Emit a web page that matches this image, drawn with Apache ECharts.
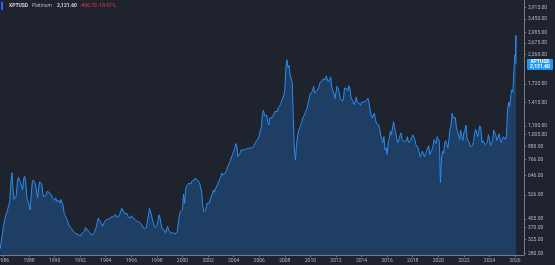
<!DOCTYPE html>
<html>
<head>
<meta charset="utf-8">
<script src="https://cdn.jsdelivr.net/npm/echarts@6/dist/echarts.min.js"></script>
<style>
html,body{margin:0;padding:0;background:#1f232e;}
#chart{width:555px;height:265px;}
</style>
</head>
<body>
<div id="chart"></div>
<script>
// ---- data ----
const symbol = 'XPTUSD';
const instrument = 'Platinum';
const startYear = 1985;
const startMonth = 10; // first monthly value = Oct 1985
const prices = [
  // 1985 (Oct-Dec)
  295, 320, 345,
  // 1986
  375, 395, 420, 433, 450, 470, 490, 600, 665, 560, 500, 490,
  // 1987
  520, 600, 635, 640, 600, 580, 553, 625, 640, 600, 510, 500,
  // 1988
  470, 447, 520, 600, 616, 610, 590, 600, 510, 560, 605, 600,
  // 1989
  590, 530, 515, 510, 525, 545, 555, 540, 550, 525, 510, 500,
  // 1990
  495, 510, 490, 485, 495, 480, 500, 490, 470, 430, 420, 410,
  // 1991
  400, 385, 375, 370, 365, 360, 355, 350, 345, 340, 345, 340,
  // 1992
  338, 345, 350, 345, 355, 370, 372, 360, 355, 350, 345, 340,
  // 1993
  345, 350, 352, 370, 390, 410, 412, 395, 385, 375, 380, 395,
  // 1994
  400, 405, 410, 405, 410, 415, 420, 415, 420, 425, 420, 412,
  // 1995
  420, 425, 440, 455, 450, 440, 430, 425, 430, 415, 420, 410,
  // 1996
  420, 415, 410, 405, 400, 398, 395, 395, 390, 385, 380, 375,
  // 1997
  365, 362, 370, 375, 420, 455, 440, 420, 400, 395, 370, 365,
  // 1998
  375, 400, 424, 410, 380, 365, 370, 360, 350, 345, 375, 360,
  // 1999
  355, 350, 345, 350, 355, 345, 350, 355, 360, 420, 440, 445,
  // 2000
  450, 530, 480, 560, 580, 590, 595, 600, 590, 610, 605, 615,
  // 2001
  630, 640, 615, 620, 600, 570, 540, 470, 440, 433, 450, 480,
  // 2002
  470, 480, 500, 510, 530, 553, 540, 560, 570, 590, 600, 620,
  // 2003
  640, 665, 650, 640, 660, 680, 700, 710, 740, 760, 790, 810,
  // 2004
  840, 860, 910, 890, 790, 800, 820, 850, 860, 850, 860, 855,
  // 2005
  860, 865, 860, 865, 870, 870, 880, 890, 910, 930, 950, 960,
  // 2006
  990, 1050, 1080, 1250, 1300, 1230, 1230, 1230, 1150, 1110, 1200, 1180,
  // 2007
  1200, 1230, 1250, 1290, 1300, 1280, 1340, 1360, 1380, 1440, 1470, 1520,
  // 2008
  1616, 2050, 2230, 2050, 2100, 1900, 1880, 1740, 1200, 850, 765, 900,
  // 2009
  990, 1050, 1080, 1110, 1150, 1200, 1230, 1260, 1300, 1330, 1420, 1450,
  // 2010
  1550, 1530, 1600, 1680, 1560, 1580, 1600, 1620, 1660, 1750, 1720, 1780,
  // 2011
  1820, 1850, 1800, 1880, 1800, 1760, 1800, 1860, 1680, 1600, 1560, 1470,
  // 2012
  1500, 1680, 1640, 1580, 1470, 1450, 1430, 1470, 1650, 1620, 1640, 1600,
  // 2013
  1690, 1650, 1500, 1460, 1470, 1380, 1420, 1500, 1420, 1450, 1400, 1370,
  // 2014
  1420, 1430, 1420, 1420, 1440, 1470, 1480, 1420, 1300, 1240, 1200, 1210,
  // 2015
  1260, 1180, 1130, 1140, 1110, 1070, 990, 1000, 920, 980, 850, 870,
  // 2016
  810, 930, 960, 1040, 1000, 990, 1150, 1080, 1020, 950, 920, 930,
  // 2017
  990, 1020, 950, 940, 930, 920, 940, 980, 920, 930, 940, 960,
  // 2018
  1000, 980, 950, 900, 890, 870, 830, 790, 810, 840, 850, 790,
  // 2019
  780, 840, 850, 890, 810, 830, 850, 880, 950, 930, 910, 980,
  // 2020
  990, 930, 600, 780, 840, 820, 920, 940, 900, 870, 950, 1060,
  // 2021
  1110, 1260, 1200, 1220, 1200, 1080, 1060, 1000, 950, 1050, 990, 940,
  // 2022
  1020, 1050, 1110, 960, 950, 920, 880, 870, 890, 930, 1010, 1060,
  // 2023
  1080, 980, 960, 1100, 1060, 920, 940, 920, 900, 890, 920, 1000,
  // 2024
  960, 890, 910, 940, 1050, 1030, 990, 940, 970, 1010, 960, 920,
  // 2025
  950, 980, 960, 950, 1000, 1300, 1420, 1350, 1520, 1620, 1580, 2000
];
// final weeks (decimal years) of the series
const tailYears = [2025.98, 2026.03, 2026.068, 2026.08];
const tailPrices = [2350, 2300, 2900, 2121.6];
const priceChange = -496.70;
const priceChangePct = -18.97;
const yTickValues = [280, 325, 370, 405, 526, 646, 766, 880, 1005, 1100, 1415, 1720, 2360, 2675, 2985, 3450, 3915];
const xTickYears = [1986, 1988, 1990, 1992, 1994, 1996, 1998, 2000, 2002, 2004, 2006, 2008, 2010, 2012, 2014, 2016, 2018, 2020, 2022, 2024, 2026];

// ---- build ----
const seriesData = prices.map((p, i) => [startYear + (startMonth - 1 + i) / 12, p])
  .concat(tailYears.map((t, i) => [t, tailPrices[i]]));
const lastPrice = tailPrices[tailPrices.length - 1];
const fmt = v => Number(v).toLocaleString('en-US', {minimumFractionDigits: 2, maximumFractionDigits: 2});

const FONT = 'Roboto, "DejaVu Sans", sans-serif';
const AXIS_COLOR = '#787b86';
const LABEL_COLOR = '#b2b5be';

const chart = echarts.init(document.getElementById('chart'), null, {renderer: 'canvas'});
chart.setOption({
  backgroundColor: '#1f232e',
  animation: false,
  grid: {left: 0, right: 31, top: 0, bottom: 10, containLabel: false, outerBoundsMode: 'none'},
  xAxis: {
    type: 'value',
    min: 1985.733,
    max: 2026.70,
    axisLine: {show: true, lineStyle: {color: AXIS_COLOR, width: 1}},
    axisTick: {show: true, customValues: xTickYears, length: 2, lineStyle: {color: AXIS_COLOR}},
    axisLabel: {
      customValues: xTickYears,
      formatter: v => String(Math.round(v)),
      color: LABEL_COLOR, fontSize: 5, fontFamily: FONT, margin: 3
    },
    splitLine: {show: false}
  },
  yAxis: {
    type: 'log',
    logBase: 10,
    position: 'right',
    min: 276,
    max: 4233,
    axisLine: {show: true, lineStyle: {color: AXIS_COLOR, width: 1}},
    axisTick: {show: true, customValues: yTickValues, length: 2, lineStyle: {color: AXIS_COLOR}},
    axisLabel: {
      customValues: yTickValues,
      formatter: v => fmt(v),
      color: LABEL_COLOR, fontSize: 5, fontFamily: FONT, margin: 4
    },
    splitLine: {show: false}
  },
  series: [{
    type: 'line',
    data: seriesData,
    showSymbol: false,
    symbol: 'none',
    lineStyle: {color: '#2a8cf0', width: 1},
    areaStyle: {color: '#1e3f63', opacity: 1, origin: 'start'},
    clip: true
  }]
});

const yPix = chart.convertToPixel({yAxisIndex: 0}, lastPrice);
chart.setOption({
  graphic: [
    {type: 'rect', shape: {x: 1, y: 2, width: 2, height: 8}, style: {fill: '#2962ff'}},
    {type: 'text', x: 9, y: 6, style: {text: symbol, fill: '#d1d4dc', font: 'bold 5px ' + FONT, verticalAlign: 'middle'}},
    {type: 'text', x: 32, y: 6, style: {text: instrument, fill: '#b2b5be', font: '5px ' + FONT, verticalAlign: 'middle'}},
    {type: 'text', x: 57, y: 6, style: {text: fmt(lastPrice), fill: '#d1d4dc', font: 'bold 5px ' + FONT, verticalAlign: 'middle'}},
    {type: 'text', x: 80, y: 6, style: {text: fmt(priceChange) + ' ' + priceChangePct.toFixed(2) + '%', fill: '#f23645', font: '5px ' + FONT, verticalAlign: 'middle'}},
    {type: 'rect', shape: {x: 527, y: yPix - 5.5, width: 26, height: 11, r: 1}, style: {fill: '#2196f3'}},
    {type: 'text', x: 540, y: yPix - 2.5, style: {text: symbol, fill: '#ffffff', font: 'bold 5px ' + FONT, align: 'center', verticalAlign: 'middle'}},
    {type: 'text', x: 540, y: yPix + 2.5, style: {text: fmt(lastPrice), fill: '#ffffff', font: 'bold 5px ' + FONT, align: 'center', verticalAlign: 'middle'}}
  ]
});
</script>
</body>
</html>
